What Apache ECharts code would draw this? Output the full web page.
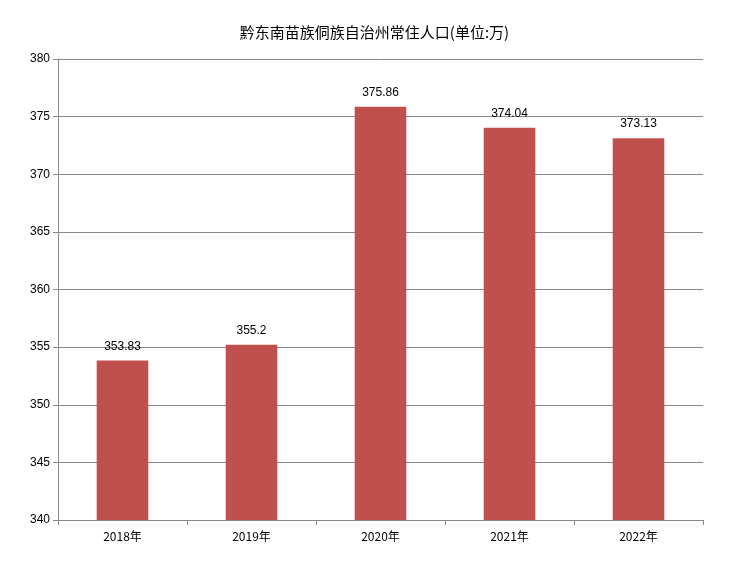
<!DOCTYPE html>
<html><head><meta charset="utf-8">
<script src="https://cdn.jsdelivr.net/npm/echarts@6/dist/echarts.min.js"></script>
<style>html,body{margin:0;padding:0;background:#fff}#c{width:749px;height:563px}</style>
</head><body><div id="c"></div>
<script>
const categories = ['2018年','2019年','2020年','2021年','2022年'];
const values = [353.83, 355.2, 375.86, 374.04, 373.13];
const chart = echarts.init(document.getElementById('c'));
chart.setOption({
  animation:false,
  title:{text:'黔东南苗族侗族自治州常住人口(单位:万)',left:'center',top:20,textStyle:{fontSize:15,fontWeight:'normal',color:'#000',fontFamily:'Noto Sans CJK SC'}},
  grid:{left:58,right:46,top:59,bottom:43},
  xAxis:{type:'category',data:categories,
    axisLine:{lineStyle:{color:'#888'}},
    axisTick:{show:true,alignWithLabel:false,length:5,lineStyle:{color:'#888'}},
    axisLabel:{color:'#000',fontSize:12,margin:10,fontFamily:'Noto Sans CJK SC'}},
  yAxis:{type:'value',min:340,max:380,interval:5,
    axisLine:{show:true,lineStyle:{color:'#888'}},
    axisTick:{show:true,length:5,lineStyle:{color:'#888'}},
    splitLine:{lineStyle:{color:'#888'}},
    axisLabel:{color:'#000',fontSize:12,fontFamily:'Liberation Sans'}},
  series:[{type:'bar',data:values,barWidth:'40%',itemStyle:{color:'#C0504D'},
    label:{show:true,position:'top',distance:8,color:'#000',fontSize:12,fontFamily:'Liberation Sans'}}]
});
</script></body></html>
